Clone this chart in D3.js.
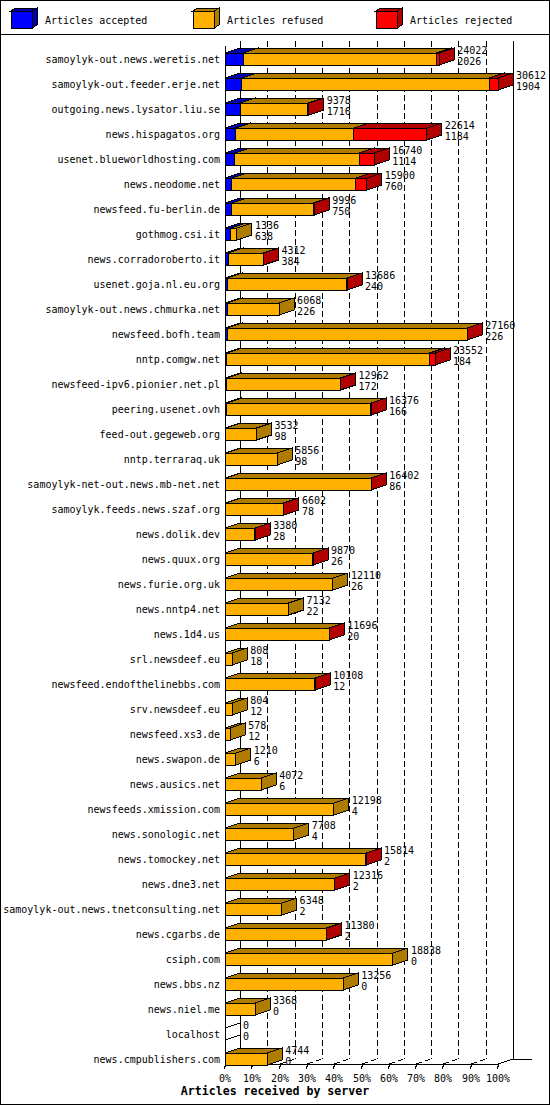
<!DOCTYPE html>
<html><head><meta charset="utf-8">
<script src="https://cdn.jsdelivr.net/npm/d3@7"></script>
<style>body{margin:0;background:#fff} svg{display:block}</style>
</head><body>
<script>
const servers = ["samoylyk-out.news.weretis.net","samoylyk-out.feeder.erje.net","outgoing.news.lysator.liu.se","news.hispagatos.org","usenet.blueworldhosting.com","news.neodome.net","newsfeed.fu-berlin.de","gothmog.csi.it","news.corradoroberto.it","usenet.goja.nl.eu.org","samoylyk-out.news.chmurka.net","newsfeed.bofh.team","nntp.comgw.net","newsfeed-ipv6.pionier.net.pl","peering.usenet.ovh","feed-out.gegeweb.org","nntp.terraraq.uk","samoylyk-net-out.news.mb-net.net","samoylyk.feeds.news.szaf.org","news.dolik.dev","news.quux.org","news.furie.org.uk","news.nntp4.net","news.1d4.us","srl.newsdeef.eu","newsfeed.endofthelinebbs.com","srv.newsdeef.eu","newsfeed.xs3.de","news.swapon.de","news.ausics.net","newsfeeds.xmission.com","news.sonologic.net","news.tomockey.net","news.dne3.net","samoylyk-out.news.tnetconsulting.net","news.cgarbs.de","csiph.com","news.bbs.nz","news.niel.me","localhost","news.cmpublishers.com"];
const totals   = [24022,30612,9378,22614,16740,15900,9996,1336,4312,13686,6068,27160,23552,12962,16376,3532,5856,16402,6602,3380,9870,12110,7132,11696,808,10108,804,578,1210,4072,12198,7708,15814,12316,6348,11380,18838,13256,3368,0,4744];
const accepted = [2026,1904,1716,1184,1114,760,750,638,384,240,226,226,184,172,166,98,98,86,78,28,26,26,22,20,18,12,12,12,6,6,4,4,2,2,2,2,0,0,0,0,0];
const refused  = [21656,27708,7572,13280,13946,13900,9166,698,3888,13416,5842,26914,22748,12750,16170,3434,5758,16286,6494,3332,9814,12084,7110,11646,790,10076,792,566,1204,4066,12194,7704,15792,12294,6346,11358,18838,13256,3368,0,4744];
const rejected = [340,1000,90,8150,1680,1240,80,0,40,30,0,20,620,40,40,0,0,30,30,20,30,0,0,30,0,20,0,0,0,0,0,0,20,20,0,20,0,0,0,0,0];
const seriesNames = ["Articles accepted","Articles refused","Articles rejected"];
const tickPercents = [0,10,20,30,40,50,60,70,80,90,100];
const tickLabels = ["0%","10%","20%","30%","40%","50%","60%","70%","80%","90%","100%"];
const xTitle = "Articles received by server";

const W = 550, H = 1105;
const front = ["#0000ff","#ffb000","#ff0000"];
const dark  = ["#0000b0","#b07c00","#b00000"];
const DX = 15, DY = 5, BH = 12;
const FONT = "'DejaVu Sans Mono', monospace";

const svg = d3.select("body").append("svg").attr("width", W).attr("height", H)
  .attr("shape-rendering","crispEdges");

svg.append("rect").attr("x",0.5).attr("y",0.5).attr("width",W-1).attr("height",H-1)
  .attr("fill","#fff").attr("stroke","#000");

// legend
const lx = [11,193,376];
const leg = svg.append("g");
seriesNames.forEach((n,k)=>{
  const x0 = lx[k], y0 = 11, w = 21, h = 17, dx = 5, dy = 3;
  leg.append("polygon").attr("points",[[x0,y0],[x0+dx,y0-dy],[x0+w+dx,y0-dy],[x0+w,y0]].join(" "))
    .attr("fill",dark[k]).attr("stroke","#000");
  leg.append("polygon").attr("points",[[x0+w,y0],[x0+w+dx,y0-dy],[x0+w+dx,y0+h-dy],[x0+w,y0+h]].join(" "))
    .attr("fill",dark[k]).attr("stroke","#000");
  leg.append("rect").attr("x",x0).attr("y",y0).attr("width",w).attr("height",h)
    .attr("fill",front[k]).attr("stroke","#000");
  leg.append("text").attr("x",x0+34).attr("y",24).attr("font-family",FONT).attr("font-size",10)
    .text(n);
});
svg.append("line").attr("x1",0).attr("x2",W).attr("y1",34.5).attr("y2",34.5).attr("stroke","#000");

// scales
const x = d3.scaleLinear().domain([0, d3.max(totals)]).range([225, 498]);
const xp = d3.scaleLinear().domain([0, 100]).range([225, 498]);
const y = d3.scalePoint().domain(servers).range([59, 1059]);

const plotTop = 41, floorFront = 1064;

// grid (back wall + floor)
const grid = svg.append("g").attr("stroke","#000").attr("stroke-dasharray","6,3");
tickPercents.slice(1,-1).forEach(p=>{
  const xx = Math.round(xp(p));
  grid.append("line").attr("x1",xx+DX).attr("x2",xx+DX).attr("y1",plotTop).attr("y2",floorFront-DY);
  grid.append("line").attr("x1",xx).attr("x2",xx+DX).attr("y1",floorFront).attr("y2",floorFront-DY);
});

// frame
const fr = svg.append("g").attr("stroke","#000").attr("fill","none");
fr.append("line").attr("x1",xp(0)+DX).attr("x2",xp(0)+DX).attr("y1",plotTop).attr("y2",floorFront-DY);
fr.append("line").attr("x1",xp(100)+DX).attr("x2",xp(100)+DX).attr("y1",plotTop).attr("y2",floorFront-DY);
fr.append("line").attr("x1",xp(0)).attr("x2",xp(0)).attr("y1",plotTop+DY).attr("y2",floorFront);
fr.append("line").attr("x1",xp(0)).attr("x2",xp(100)).attr("y1",floorFront).attr("y2",floorFront);
fr.append("line").attr("x1",xp(100)).attr("x2",xp(100)+DX).attr("y1",floorFront).attr("y2",floorFront-DY);
fr.append("line").attr("x1",xp(100)+DX).attr("x2",532).attr("y1",floorFront-DY).attr("y2",floorFront-DY);

// ticks & labels
tickPercents.forEach((p,i)=>{
  const xx = Math.round(xp(p));
  fr.append("line").attr("x1",xx+1).attr("x2",xx-1).attr("y1",floorFront).attr("y2",floorFront+5);
  svg.append("text").attr("x",xx).attr("y",1082).attr("text-anchor","middle")
    .attr("font-family",FONT).attr("font-size",10).text(tickLabels[i]);
});
svg.append("text").attr("x",275).attr("y",1095).attr("text-anchor","middle")
  .attr("font-family",FONT).attr("font-size",11.6).attr("font-weight","bold").text(xTitle);

// bars
const bars = svg.append("g").attr("stroke","#000");
servers.forEach((s,i)=>{
  const yc = y(s), yt = yc - BH/2, yb = yc + BH/2;
  const vals = [accepted[i], refused[i], rejected[i]];
  let cum = 0;
  if (totals[i] === 0) {
    const x0 = x(0);
    bars.append("polygon").attr("points",[[x0,yt],[x0+DX,yt-DY],[x0+DX,yb-DY],[x0,yb]].join(" "))
      .attr("fill","none");
  }
  vals.forEach((v,k)=>{
    if (v <= 0) return;
    const x1 = x(cum), x2 = x(cum+v);
    cum += v;
    bars.append("polygon").attr("points",[[x1,yt],[x2,yt],[x2+DX,yt-DY],[x1+DX,yt-DY]].join(" "))
      .attr("fill",dark[k]);
    bars.append("polygon").attr("points",[[x2,yt],[x2+DX,yt-DY],[x2+DX,yb-DY],[x2,yb]].join(" "))
      .attr("fill",dark[k]);
    bars.append("rect").attr("x",x1).attr("y",yt).attr("width",x2-x1).attr("height",BH)
      .attr("fill",front[k]);
  });
  // category label
  svg.append("text").attr("x",220).attr("y",yc+4).attr("text-anchor","end")
    .attr("font-family",FONT).attr("font-size",10).text(s);
  const lxv = x(totals[i]) + 18;
  svg.append("text").attr("x",lxv).attr("y",yt+0.5).attr("font-family",FONT).attr("font-size",10).text(totals[i]);
  svg.append("text").attr("x",lxv).attr("y",yb).attr("font-family",FONT).attr("font-size",10).text(accepted[i]);
});
</script>
</body></html>
